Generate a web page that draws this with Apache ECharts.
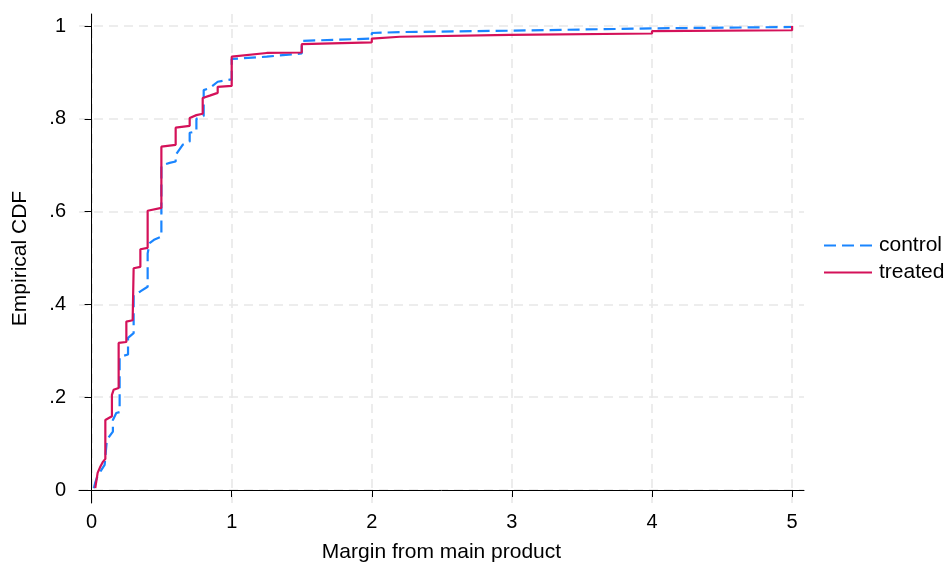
<!DOCTYPE html>
<html>
<head>
<meta charset="utf-8">
<script src="https://cdn.jsdelivr.net/npm/echarts@6/dist/echarts.min.js"></script>
<style>html,body{margin:0;padding:0;background:#fff}#c{width:951px;height:565px}</style>
</head>
<body>
<div id="c"></div>
<script>
// Empirical CDF points (x = margin, F = cumulative share)
var controlX = [0.016,0.026,0.041,0.069,0.093,0.105,0.109,0.152,0.152,0.176,0.20,0.20,0.26,0.26,0.30,0.30,0.348,0.40,0.40,0.414,0.45,0.498,0.498,0.557,0.60,0.60,0.65,0.70,0.70,0.748,0.748,0.80,0.80,0.843,0.90,1.0,1.0,1.25,1.5,1.5,2.0,2.0,2.2,2.986,3.0,4.0,5.0];
var controlF = [0.004,0.016,0.029,0.043,0.054,0.058,0.108,0.126,0.151,0.166,0.168,0.287,0.292,0.328,0.338,0.420,0.428,0.438,0.510,0.532,0.540,0.546,0.700,0.705,0.708,0.722,0.744,0.751,0.770,0.773,0.800,0.806,0.862,0.866,0.880,0.885,0.929,0.934,0.941,0.968,0.973,0.985,0.987,0.990,0.994,0.995,0.998];
var treatedX = [0.026,0.043,0.062,0.079,0.098,0.098,0.145,0.145,0.157,0.193,0.193,0.248,0.248,0.293,0.30,0.348,0.348,0.40,0.40,0.498,0.498,0.60,0.60,0.70,0.70,0.748,0.793,0.793,0.843,0.90,0.90,1.0,1.0,1.25,1.5,1.5,2.0,2.0,2.2,2.986,4.0,4.0,5.0,5.0];
var treatedF = [0.004,0.037,0.050,0.060,0.067,0.151,0.159,0.205,0.216,0.220,0.317,0.319,0.363,0.366,0.478,0.481,0.519,0.522,0.602,0.608,0.740,0.744,0.781,0.785,0.802,0.808,0.811,0.845,0.850,0.856,0.869,0.871,0.934,0.942,0.943,0.961,0.965,0.973,0.977,0.981,0.984,0.989,0.991,1.0];
var xTicks = [0,1,2,3,4,5];
var yTicks = [0,0.2,0.4,0.6,0.8,1];
var seriesNames = ['control','treated'];

function pairs(xs, ys){ return xs.map(function(x,i){ return [x, ys[i]]; }); }

var FONT = 'Liberation Sans, Arial, sans-serif';
var chart = echarts.init(document.getElementById('c'), null, {renderer:'canvas'});
var gridLine = {show:true, lineStyle:{color:'#e8e8e8', width:1.6, type:[9,6]}};
chart.setOption({
  animation:false,
  backgroundColor:'#fff',
  grid:{left:79, right:147, top:14, bottom:62, containLabel:false, outerBoundsMode:'none'},
  legend:{
    orient:'vertical', left:818, top:230, itemWidth:48, itemHeight:14, itemGap:6,
    itemStyle:{opacity:0},
    textStyle:{fontFamily:FONT, fontSize:21, color:'#000', padding:[0,0,0,2]},
    data:seriesNames
  },
  xAxis:{
    type:'value', min:-0.09, max:5.085,
    name:'Margin from main product', nameLocation:'middle', nameGap:39,
    nameTextStyle:{fontFamily:FONT, fontSize:21, color:'#000'},
    axisLine:{show:true, lineStyle:{color:'#000', width:1}},
    axisTick:{show:true, length:7, lineStyle:{color:'#000'}, customValues:xTicks},
    axisLabel:{fontFamily:FONT, fontSize:20, color:'#000', margin:9, customValues:xTicks},
    splitLine:gridLine
  },
  yAxis:{
    type:'value', min:-0.028, max:1.026,
    name:'Empirical CDF', nameLocation:'middle', nameGap:48,
    nameTextStyle:{fontFamily:FONT, fontSize:21, color:'#000'},
    axisLine:{show:true, lineStyle:{color:'#000', width:1}},
    axisTick:{show:true, length:7, lineStyle:{color:'#000'}, customValues:yTicks},
    axisLabel:{fontFamily:FONT, fontSize:20, color:'#000', margin:13, customValues:yTicks,
      formatter:function(v){ if(v===0) return '0'; if(v===1) return '1'; return String(Math.round(v*10)/10).replace(/^0/,''); }},
    splitLine:gridLine
  },
  series:[
    {name:seriesNames[0], type:'line', data:pairs(controlX, controlF), showSymbol:false, symbol:'none',
     lineStyle:{color:'#1a85ff', width:2.2, type:[12,6]}, itemStyle:{color:'#1a85ff'}, z:2},
    {name:seriesNames[1], type:'line', data:pairs(treatedX, treatedF), showSymbol:false, symbol:'none',
     lineStyle:{color:'#d41159', width:2.2}, itemStyle:{color:'#d41159'}, z:3}
  ]
});
</script>
</body>
</html>
